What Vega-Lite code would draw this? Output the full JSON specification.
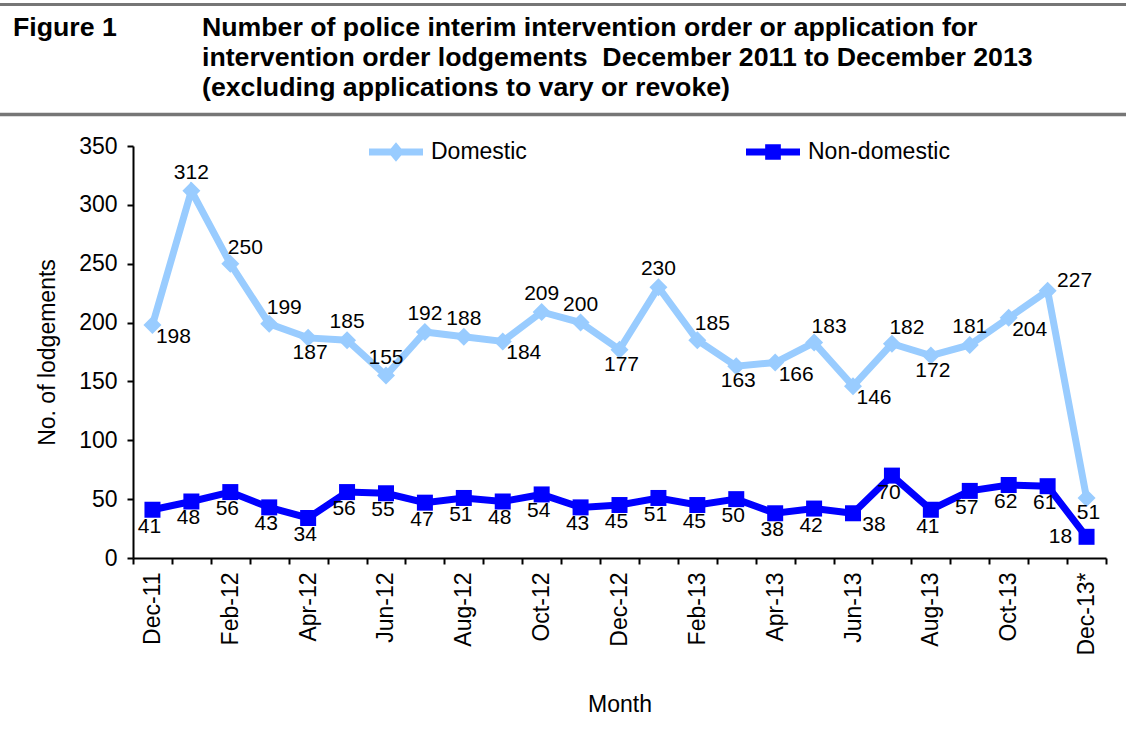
{
  "$schema": "https://vega.github.io/schema/vega-lite/v6.json",
  "background": "white",
  "padding": {"left": -4, "top": 4, "right": 0, "bottom": 0},
  "spacing": 11,
  "resolve": {"scale": {"color": "independent"}, "legend": {"color": "independent"}},
  "datasets": {
    "header": [
      {"line": 1, "col": "label", "text": "Figure 1"},
      {"line": 1, "col": "heading", "text": "Number of police interim intervention order or application for"},
      {"line": 2, "col": "heading", "text": "intervention order lodgements\u00a0 December 2011 to December 2013"},
      {"line": 3, "col": "heading", "text": "(excluding applications to vary or revoke)"}
    ],
    "counts": [
      {"month": "Dec-11", "series": "Domestic", "value": 198},
      {"month": "Jan-12", "series": "Domestic", "value": 312},
      {"month": "Feb-12", "series": "Domestic", "value": 250},
      {"month": "Mar-12", "series": "Domestic", "value": 199},
      {"month": "Apr-12", "series": "Domestic", "value": 187},
      {"month": "May-12", "series": "Domestic", "value": 185},
      {"month": "Jun-12", "series": "Domestic", "value": 155},
      {"month": "Jul-12", "series": "Domestic", "value": 192},
      {"month": "Aug-12", "series": "Domestic", "value": 188},
      {"month": "Sep-12", "series": "Domestic", "value": 184},
      {"month": "Oct-12", "series": "Domestic", "value": 209},
      {"month": "Nov-12", "series": "Domestic", "value": 200},
      {"month": "Dec-12", "series": "Domestic", "value": 177},
      {"month": "Jan-13", "series": "Domestic", "value": 230},
      {"month": "Feb-13", "series": "Domestic", "value": 185},
      {"month": "Mar-13", "series": "Domestic", "value": 163},
      {"month": "Apr-13", "series": "Domestic", "value": 166},
      {"month": "May-13", "series": "Domestic", "value": 183},
      {"month": "Jun-13", "series": "Domestic", "value": 146},
      {"month": "Jul-13", "series": "Domestic", "value": 182},
      {"month": "Aug-13", "series": "Domestic", "value": 172},
      {"month": "Sep-13", "series": "Domestic", "value": 181},
      {"month": "Oct-13", "series": "Domestic", "value": 204},
      {"month": "Nov-13", "series": "Domestic", "value": 227},
      {"month": "Dec-13*", "series": "Domestic", "value": 51},
      {"month": "Dec-11", "series": "Non-domestic", "value": 41},
      {"month": "Jan-12", "series": "Non-domestic", "value": 48},
      {"month": "Feb-12", "series": "Non-domestic", "value": 56},
      {"month": "Mar-12", "series": "Non-domestic", "value": 43},
      {"month": "Apr-12", "series": "Non-domestic", "value": 34},
      {"month": "May-12", "series": "Non-domestic", "value": 56},
      {"month": "Jun-12", "series": "Non-domestic", "value": 55},
      {"month": "Jul-12", "series": "Non-domestic", "value": 47},
      {"month": "Aug-12", "series": "Non-domestic", "value": 51},
      {"month": "Sep-12", "series": "Non-domestic", "value": 48},
      {"month": "Oct-12", "series": "Non-domestic", "value": 54},
      {"month": "Nov-12", "series": "Non-domestic", "value": 43},
      {"month": "Dec-12", "series": "Non-domestic", "value": 45},
      {"month": "Jan-13", "series": "Non-domestic", "value": 51},
      {"month": "Feb-13", "series": "Non-domestic", "value": 45},
      {"month": "Mar-13", "series": "Non-domestic", "value": 50},
      {"month": "Apr-13", "series": "Non-domestic", "value": 38},
      {"month": "May-13", "series": "Non-domestic", "value": 42},
      {"month": "Jun-13", "series": "Non-domestic", "value": 38},
      {"month": "Jul-13", "series": "Non-domestic", "value": 70},
      {"month": "Aug-13", "series": "Non-domestic", "value": 41},
      {"month": "Sep-13", "series": "Non-domestic", "value": 57},
      {"month": "Oct-13", "series": "Non-domestic", "value": 62},
      {"month": "Nov-13", "series": "Non-domestic", "value": 61},
      {"month": "Dec-13*", "series": "Non-domestic", "value": 18}
    ]
  },
  "config": {
    "axis": {
      "domainColor": "black",
      "domainWidth": 2,
      "tickColor": "black",
      "tickWidth": 2,
      "tickSize": 6,
      "labelColor": "black",
      "titleColor": "black",
      "labelFont": "Liberation Sans",
      "titleFont": "Liberation Sans",
      "labelFontSize": 23,
      "titleFontSize": 23,
      "titleFontWeight": "normal",
      "grid": false
    }
  },
  "vconcat": [
    {
      "width": 993,
      "height": 110,
      "view": {"stroke": null},
      "data": {"name": "header"},
      "encoding": {
        "x": {
          "field": "col",
          "type": "nominal",
          "scale": {"type": "point", "domain": ["label", "heading", "slot3", "slot4", "slot5", "slot6"], "range": [-134, 995], "padding": 0.4868, "align": 0.0761}
        },
        "y": {
          "field": "line",
          "type": "ordinal",
          "scale": {"type": "point", "domain": [1, 2, 3], "range": [32, 92], "padding": 0},
          "axis": null
        },
        "text": {"field": "text"}
      },
      "resolve": {"axis": {"x": "independent"}},
      "layer": [
        {
          "mark": {
            "type": "text",
            "align": "left",
            "baseline": "alphabetic",
            "font": "Liberation Sans",
            "fontSize": 26.7,
            "fontWeight": "bold",
            "color": "black"
          },
          "encoding": {
            "x": {
              "field": "col",
              "type": "nominal",
              "axis": {"orient": "top", "domainColor": "#767676", "domainWidth": 3, "ticks": false, "labels": false, "title": null}
            }
          }
        },
        {
          "transform": [{"filter": "false"}],
          "mark": {"type": "text", "font": "Liberation Sans", "fontSize": 26.7},
          "encoding": {
            "x": {
              "field": "col",
              "type": "nominal",
              "axis": {"orient": "bottom", "domainColor": "#767676", "domainWidth": 3.5, "ticks": false, "labels": false, "title": null}
            }
          }
        }
      ]
    },
    {
      "width": 973,
      "height": 412,
      "view": {"stroke": null},
      "data": {"name": "counts"},
      "encoding": {
        "x": {
          "field": "month",
          "type": "nominal",
          "scale": {
            "type": "band",
            "paddingInner": 0,
            "paddingOuter": 0,
            "domain": ["Dec-11", "Jan-12", "Feb-12", "Mar-12", "Apr-12", "May-12", "Jun-12", "Jul-12", "Aug-12", "Sep-12", "Oct-12", "Nov-12", "Dec-12", "Jan-13", "Feb-13", "Mar-13", "Apr-13", "May-13", "Jun-13", "Jul-13", "Aug-13", "Sep-13", "Oct-13", "Nov-13", "Dec-13*"]
          },
          "axis": {
            "title": "Month",
            "labelAngle": -90,
            "labelPadding": 8,
            "labelOverlap": false,
            "tickBand": "extent",
            "labelExpr": "test(/^(Dec|Feb|Apr|Jun|Aug|Oct)/, datum.value) ? datum.value : ''",
            "titlePadding": 38
          }
        },
        "y": {
          "field": "value",
          "type": "quantitative",
          "scale": {"domain": [0, 350], "nice": false, "zero": true},
          "axis": {
            "title": ["", "No. of lodgements"],
            "titleLineHeight": 40,
            "values": [0, 50, 100, 150, 200, 250, 300, 350],
            "labelPadding": 10,
            "titlePadding": 19
          }
        }
      },
      "layer": [
        {
          "mark": {"type": "line", "strokeWidth": 7},
          "encoding": {
            "color": {
              "field": "series",
              "type": "nominal",
              "scale": {"domain": ["Domestic", "Non-domestic"], "range": ["#99CCFF", "#0000FF"]},
              "legend": {
                "orient": "none",
                "legendX": 236,
                "legendY": -21,
                "direction": "horizontal",
                "title": null,
                "padding": 0,
                "symbolSize": 2916,
                "symbolStrokeWidth": 0,
                "labelFont": "Liberation Sans",
                "labelFontSize": 23,
                "labelColor": "black",
                "labelOffset": 8,
                "columnPadding": 219,
                "encode": {
                  "symbols": {
                    "update": {
                      "shape": {"signal": "datum.value === 'Domestic' ? 'M-1,-0.13H1V0.13H-1ZM0,-0.36L0.3,0L0,0.36L-0.3,0Z' : 'M-1,-0.13H1V0.13H-1ZM-0.29,-0.29H0.29V0.29H-0.29Z'"},
                      "fill": {"signal": "datum.value === 'Domestic' ? '#99CCFF' : '#0000FF'"},
                      "fillOpacity": {"value": 1},
                      "strokeWidth": {"value": 0}
                    }
                  }
                }
              }
            }
          }
        },
        {
          "transform": [{"filter": "datum.series === 'Domestic'"}],
          "mark": {"type": "point", "shape": "diamond", "filled": true, "size": 324, "color": "#99CCFF", "opacity": 1}
        },
        {
          "transform": [{"filter": "datum.series === 'Non-domestic'"}],
          "mark": {"type": "point", "shape": "square", "filled": true, "size": 256, "color": "#0000FF", "opacity": 1}
        },
        {
          "transform": [{"filter": "datum.series === 'Domestic' && indexof(['Jan-12','May-12','Jun-12','Jul-12','Aug-12','Oct-12','Nov-12','Jan-13','Sep-13'], datum.month) >= 0"}],
          "mark": {"type": "text", "dx": 0, "dy": -18, "font": "Liberation Sans", "fontSize": 21, "color": "black"},
          "encoding": {"text": {"field": "value", "type": "quantitative"}}
        },
        {
          "transform": [{"filter": "datum.series === 'Domestic' && indexof(['Feb-12','Mar-12','Feb-13','May-13','Jul-13'], datum.month) >= 0"}],
          "mark": {"type": "text", "dx": 15, "dy": -16, "font": "Liberation Sans", "fontSize": 21, "color": "black"},
          "encoding": {"text": {"field": "value", "type": "quantitative"}}
        },
        {
          "transform": [{"filter": "datum.series === 'Domestic' && datum.month === 'Nov-13'"}],
          "mark": {"type": "text", "dx": 27, "dy": -10, "font": "Liberation Sans", "fontSize": 21, "color": "black"},
          "encoding": {"text": {"field": "value", "type": "quantitative"}}
        },
        {
          "transform": [{"filter": "(datum.series === 'Domestic' && indexof(['Dec-11','Sep-12','Apr-13','Jun-13','Oct-13'], datum.month) >= 0) || (datum.series === 'Non-domestic' && datum.month === 'Jun-13')"}],
          "mark": {"type": "text", "dx": 21, "dy": 12, "font": "Liberation Sans", "fontSize": 21, "color": "black"},
          "encoding": {"text": {"field": "value", "type": "quantitative"}}
        },
        {
          "transform": [{"filter": "datum.series === 'Domestic' && indexof(['Apr-12','Dec-12','Mar-13','Aug-13','Dec-13*'], datum.month) >= 0"}],
          "mark": {"type": "text", "dx": 2, "dy": 15, "font": "Liberation Sans", "fontSize": 21, "color": "black"},
          "encoding": {"text": {"field": "value", "type": "quantitative"}}
        },
        {
          "transform": [{"filter": "datum.series === 'Non-domestic' && indexof(['Jun-13','Dec-13*'], datum.month) < 0"}],
          "mark": {"type": "text", "dx": -3, "dy": 17, "font": "Liberation Sans", "fontSize": 21, "color": "black"},
          "encoding": {"text": {"field": "value", "type": "quantitative"}}
        },
        {
          "transform": [{"filter": "datum.series === 'Non-domestic' && datum.month === 'Dec-13*'"}],
          "mark": {"type": "text", "dx": -26, "dy": 0, "font": "Liberation Sans", "fontSize": 21, "color": "black"},
          "encoding": {"text": {"field": "value", "type": "quantitative"}}
        }
      ]
    }
  ]
}
